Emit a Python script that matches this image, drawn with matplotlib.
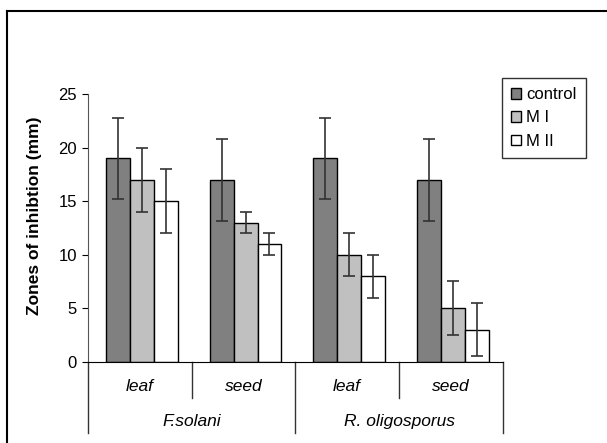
import numpy as np
import matplotlib.pyplot as plt
from matplotlib.lines import Line2D

plt.rcParams["font.family"] = ["Liberation Sans", "DejaVu Sans"]

subs = ["leaf", "seed", "leaf", "seed"]
species = ["F.solani", "R. oligosporus"]
series = ["control", "M I", "M II"]
control = [19, 17, 19, 17]
m1 = [17, 13, 10, 5]
m2 = [15, 11, 8, 3]
control_err = [3.8, 3.8, 3.8, 3.8]
m1_err = [3, 1, 2, 2.5]
m2_err = [3, 1, 2, 2.5]

colors = ["#808080", "#c0c0c0", "#ffffff"]

fig = plt.figure(figsize=(6.07, 4.43), dpi=100)
ax = fig.add_axes([88 / 607, 1 - 361.7 / 443, (502.7 - 88) / 607, (361.7 - 94.3) / 443])

x = np.arange(len(subs))
w = 0.23
for i, (vals, errs) in enumerate([(control, control_err), (m1, m1_err), (m2, m2_err)]):
    ax.bar(x + (i - 1) * w + 0.02, vals, w, color=colors[i], edgecolor="black",
           linewidth=1, label=series[i], zorder=2)
    ax.errorbar(x + (i - 1) * w + 0.02, vals, yerr=errs, fmt="none", ecolor="#333333",
                elinewidth=1.2, capsize=4, capthick=1.2, zorder=3)

ax.set_xlim(-0.5, 3.5)
ax.set_ylim(0, 25)
ax.set_yticks([0, 5, 10, 15, 20, 25])
ax.tick_params(axis="y", labelsize=12, length=4, direction="out", pad=4)
ax.set_xticks([])
for s in ["top", "right"]:
    ax.spines[s].set_visible(False)
ax.spines["left"].set_color("#555555")
ax.spines["bottom"].set_color("black")
ax.set_ylabel("Zones of inhibtion (mm)", fontsize=12.5, fontweight="bold")
ax.yaxis.set_label_coords(-0.11, 0.547)

# two-level category axis
tr = ax.get_xaxis_transform()
for xv, ylo in [(-0.5, -0.265), (0.5, -0.136), (1.5, -0.265), (2.5, -0.136), (3.5, -0.265)]:
    ax.add_line(Line2D([xv, xv], [0, ylo], transform=tr, color="#333333",
                       linewidth=1, clip_on=False))
for xv, s in zip(x, subs):
    ax.text(xv, -0.092, s, transform=tr, ha="center", va="center",
            fontsize=12.5, style="italic")
for xv, s in zip([0.5, 2.5], species):
    ax.text(xv, -0.222, s, transform=tr, ha="center", va="center",
            fontsize=12.5, style="italic")

leg = fig.legend(loc="upper left", bbox_to_anchor=(502 / 607, 1 - 78 / 443),
                 borderaxespad=0, fontsize=12, frameon=True, fancybox=False,
                 edgecolor="black", handlelength=0.6, handleheight=0.6,
                 handletextpad=0.3, labelspacing=0.5, borderpad=0.55)
leg.get_frame().set_linewidth(1)

# outer chart-area frame (top and left edges visible)
fig.add_artist(Line2D([7 / 607, 1], [1 - 11 / 443, 1 - 11 / 443],
                      transform=fig.transFigure, color="black", linewidth=1.5))
fig.add_artist(Line2D([7 / 607, 7 / 607], [0, 1 - 11 / 443],
                      transform=fig.transFigure, color="black", linewidth=1.5))

plt.savefig("out.png", dpi=100)
